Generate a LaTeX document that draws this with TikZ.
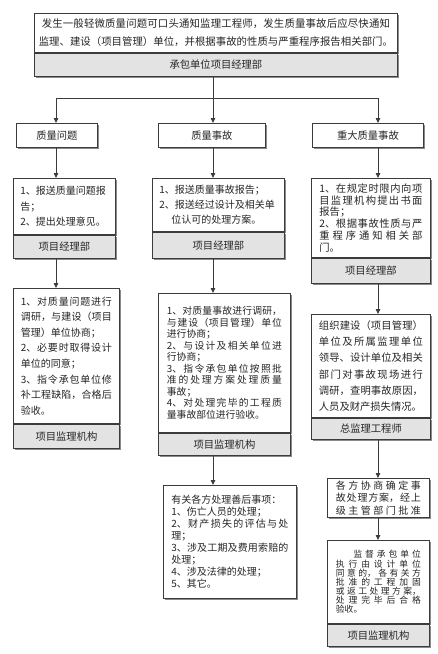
\documentclass[tikz,border=0pt]{standalone}
\usepackage{fontspec}
\setmainfont{Noto Sans CJK SC}
\usepackage{tikz}
\usetikzlibrary{positioning, shadows, arrows.meta}
\XeTeXlinebreaklocale "zh"
\XeTeXlinebreakskip=0pt plus 1pt
\tolerance=10000
\hbadness=10000
\lineskiplimit=-20pt
\normallineskiplimit=-20pt
\definecolor{linegray}{HTML}{3C3C3C}
\definecolor{footgray}{HTML}{E3E3E3}
\definecolor{shadegray}{HTML}{8A8A8A}

\begin{document}
\begin{tikzpicture}[x=1pt, y=-1pt, >={Triangle[length=5pt,width=4.5pt]},
  box/.style={draw=linegray, line width=0.8pt, fill=white, anchor=north west, inner xsep=0pt, inner ysep=0pt,
    text=black!85, drop shadow={shadow xshift=2pt, shadow yshift=-2pt, fill=shadegray, opacity=1}},
  txt/.style={box, align=justify, font=\fontsize{10}{12}\selectfont},
  head/.style={box, align=center, font=\fontsize{10.3}{12}\selectfont},
  foot/.style={box, fill=footgray, align=center, font=\fontsize{10.3}{12}\selectfont},
  line/.style={draw=linegray, line width=0.8pt}]
   \useasboundingbox (0,0) rectangle (438,654);

   % top
   \node[txt, align=center, minimum width=363pt, minimum height=39pt, text width=355pt, font=\fontsize{10.4}{18}\selectfont] (top) at (34,13)
      {发生一般轻微质量问题可口头通知监理工程师，发生质量事故后应尽快通知\\监理、建设（项目管理）单位，并根据事故的性质与严重程序报告相关部门。};
   \node[foot, minimum width=363pt, minimum height=23pt, below=0pt of top] (top_f) {承包单位项目经理部};

   \node[head, minimum width=81pt, minimum height=24pt] (q_1) at (16,123) {质量问题};
   \node[head, minimum width=107pt, minimum height=24pt] (q_2) at (158,123) {质量事故};
   \node[head, minimum width=111pt, minimum height=24pt] (q_3) at (312,123) {重大质量事故};

   % left
   \node[txt, align=left, minimum width=102pt, minimum height=56pt, text width=88pt, font=\fontsize{10}{15.5}\selectfont] (l_1) at (13,178)
      {1、报送质量问题报\\告；\\2、提出处理意见。};
   \node[foot, minimum width=102pt, minimum height=23pt, below=0pt of l_1] (l_1f) {项目经理部};
   \node[txt, minimum width=106pt, minimum height=135pt, text width=91pt, font=\fontsize{10}{15.6}\selectfont] (l_2) at (13,288)
      {1、对质量问题进行\linebreak 调研，与建设（项目\linebreak 管理）单位协商；\\2、必要时取得设计\linebreak 单位的同意；\\3、指令承包单位修\linebreak 补工程缺陷，合格后\linebreak 验收。};
   \node[foot, minimum width=106pt, minimum height=24pt, below=0pt of l_2] (l_2f) {项目监理机构};

   % middle
   \node[txt, align=left, minimum width=132pt, minimum height=53pt, text width=118pt, font=\fontsize{10}{15}\selectfont] (m_1) at (152,178)
      {1、报送质量事故报告；\\2、报送经过设计及相关单\\\hspace*{1.2em}位认可的处理方案。};
   \node[foot, minimum width=132pt, minimum height=26pt, below=0pt of m_1] (m_1f) {项目经理部};
   \node[txt, minimum width=132pt, minimum height=139pt, text width=115pt, font=\fontsize{9.8}{11.5}\selectfont] (m_2) at (158,293)
      {1、对质量事故进行调研，\linebreak 与建设（项目管理）单位\linebreak 进行协商；\\2、与设计及相关单位进\linebreak 行协商；\\3、指令承包单位按照批\linebreak 准的处理方案处理质量\linebreak 事故；\\4、对处理完毕的工程质\linebreak 量事故部位进行验收。};
   \node[foot, minimum width=132pt, minimum height=22pt, below=0pt of m_2] (m_2f) {项目监理机构};
   \node[txt, minimum width=133pt, minimum height=113pt, text width=117pt, font=\fontsize{10}{12}\selectfont] (m_3) at (163,485)
      {有关各方处理善后事项：\\1、伤亡人员的处理；\\2、财产损失的评估与处\linebreak 理；\\3、涉及工期及费用索赔的\linebreak 处理；\\4、涉及法律的处理；\\5、其它。};

   % right
   \node[txt, minimum width=119pt, minimum height=79pt, text width=103pt, font=\fontsize{10.3}{11.8}\selectfont] (r_1) at (311,178)
      {1、在规定时限内向项\linebreak 目监理机构提出书面\linebreak 报告；\\2、根据事故性质与严\linebreak 重程序通知相关部\linebreak 门。};
   \node[foot, minimum width=119pt, minimum height=25pt, below=0pt of r_1] (r_1f) {项目经理部};
   \node[txt, minimum width=119pt, minimum height=103pt, text width=104pt, font=\fontsize{10.3}{16.3}\selectfont] (r_2) at (311,314)
      {组织建设（项目管理）\linebreak 单位及所属监理单位\linebreak 领导、设计单位及相关\linebreak 部门对事故现场进行\linebreak 调研，查明事故原因，\linebreak 人员及财产损失情况。};
   \node[foot, minimum width=119pt, minimum height=21pt, below=0pt of r_2] (r_2f) {总监理工程师};
   \node[txt, minimum width=102pt, minimum height=39pt, text width=85pt, font={\fontsize{10}{12.5}\selectfont\parfillskip=0pt}] (r_3) at (327,478)
      {各方协商确定事\linebreak 故处理方案，经上\linebreak 级主管部门批准};
   \node[txt, minimum width=102pt, minimum height=83pt, text width=85pt, font=\fontsize{8.8}{9.1}\selectfont] (r_4) at (327,540)
      {\hspace*{2em}监督承包单位\linebreak 执行由设计单位\linebreak 同意的，各有关方\linebreak 批准的工程加固\linebreak 或返工处理方案，\linebreak 处理完毕后合格\linebreak 验收。};
   \node[foot, minimum width=102pt, minimum height=22pt, below=0pt of r_4] (r_4f) {项目监理机构};

   \coordinate (fork) at (213,98);
   \coordinate (lx) at (56,98);
   \coordinate (rx) at (378,98);

   \draw[line] (top_f.south -| fork) -- (fork);
   \draw[line] (lx) -- (rx);
   \draw[line, ->] (lx) -- (lx |- q_1.north);
   \draw[line, ->] (fork) -- (fork |- q_2.north);
   \draw[line, ->] (rx) -- (rx |- q_3.north);

   \draw[line, ->] (q_1.south -| lx) -- (lx |- l_1.north);
   \draw[line, ->] (l_1f.south -| lx) -- (lx |- l_2.north);

   \draw[line, ->] (q_2.south -| fork) -- (fork |- m_1.north);
   \draw[line, ->] (m_1f.south -| fork) -- (fork |- m_2.north);
   \draw[line, ->] (m_2f.south -| fork) -- (fork |- m_3.north);

   \draw[line, ->] (q_3.south -| rx) -- (rx |- r_1.north);
   \draw[line, ->] (r_1f.south -| rx) -- (rx |- r_2.north);
   \draw[line, ->] (r_2f.south -| rx) -- (rx |- r_3.north);
   \draw[line, ->] (r_3.south -| rx) -- (rx |- r_4.north);
\end{tikzpicture}
\end{document}
